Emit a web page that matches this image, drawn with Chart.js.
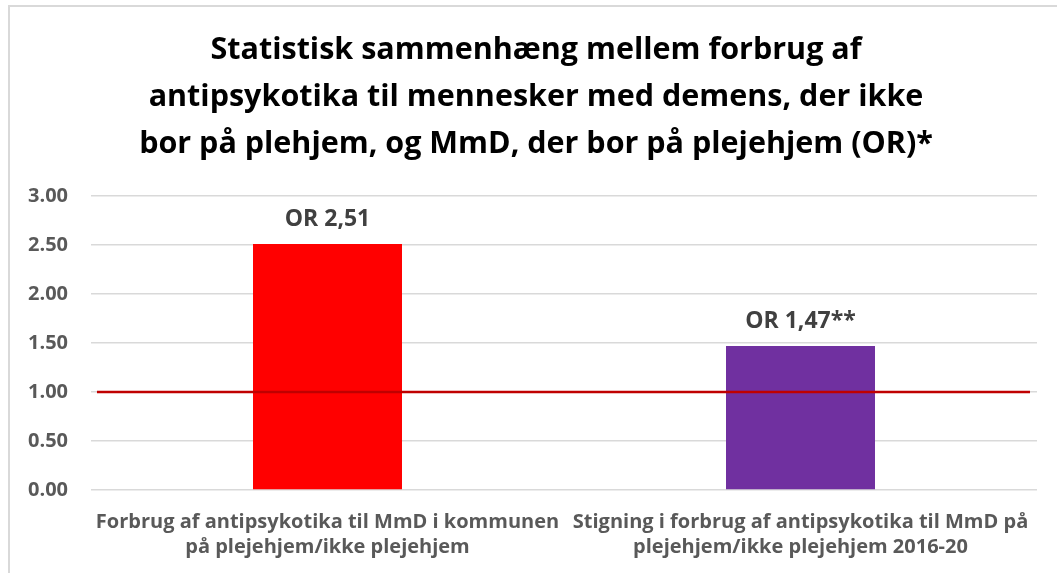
<!DOCTYPE html>
<html>
<head>
<meta charset="utf-8">
<script src="https://cdn.jsdelivr.net/npm/chart.js@4/dist/chart.umd.min.js"></script>
<style>
  html, body { margin: 0; padding: 0; background: #fff; overflow: hidden; width: 1057px; height: 573px; }
  #box { position: absolute; left: 8px; top: 5px; width: 1100px; height: 600px;
         border-top: 2px solid #d9d9d9; border-left: 2px solid #d9d9d9; }
  #c { position: absolute; left: 8px; top: 5px; }
</style>
</head>
<body>
<div id="box"></div>
<canvas id="c" width="1056" height="568"></canvas>
<script>
const titleLines = [
  "Statistisk sammenhæng mellem forbrug af",
  "antipsykotika til mennesker med demens, der ikke",
  "bor på plehjem, og MmD, der bor på plejehjem (OR)*"
];
const categories = [
  ["Forbrug af antipsykotika til MmD i kommunen", "på plejehjem/ikke plejehjem"],
  ["Stigning i forbrug af antipsykotika til MmD på", "plejehjem/ikke plejehjem 2016-20"]
];
const oddsRatios = [2.51, 1.47];
const dataLabels = ["OR 2,51", "OR 1,47**"];
const barColors = ["#FF0000", "#7030A0"];
const referenceValue = 1;
const yTicks = [0, 0.5, 1, 1.5, 2, 2.5, 3];

const FONT = "'Open Sans', sans-serif";

const labelPlugin = {
  id: 'barLabels',
  afterDatasetsDraw(chart) {
    const ctx = chart.ctx;
    const meta = chart.getDatasetMeta(1);
    ctx.save();
    ctx.font = "bold 23px " + FONT;
    ctx.fillStyle = "#404040";
    ctx.textAlign = "center";
    ctx.textBaseline = "alphabetic";
    meta.data.forEach((bar, i) => {
      ctx.fillText(dataLabels[i], bar.x, bar.y - 18);
    });
    ctx.restore();
  }
};

new Chart(document.getElementById('c'), {
  data: {
    labels: categories,
    datasets: [
      {
        type: 'line',
        data: [{x: 0, y: referenceValue}, {x: 1, y: referenceValue}],
        xAxisID: 'xl',
        borderColor: '#C00000',
        borderWidth: 2.5,
        pointRadius: 0,
        order: 0
      },
      {
        type: 'bar',
        data: oddsRatios,
        backgroundColor: barColors,
        grouped: false,
        categoryPercentage: 1,
        barPercentage: 0.315,
        order: 1
      }
    ]
  },
  options: {
    responsive: false,
    animation: false,
    layout: { padding: { left: 0, right: 0, top: 0, bottom: 0 } },
    plugins: {
      legend: { display: false },
      tooltip: { enabled: false },
      title: {
        display: true,
        text: titleLines,
        color: '#000',
        font: { family: FONT, size: 30.5, weight: 'bold', lineHeight: '47px' },
        padding: { top: 22, bottom: 28 }
      }
    },
    scales: {
      x: {
        type: 'category',
        grid: { display: false, drawTicks: false },
        border: { display: false },
        ticks: {
          color: '#595959',
          font: { family: FONT, size: 20, weight: 'bold', lineHeight: '25px' },
          padding: 20,
          maxRotation: 0,
          autoSkip: false
        },
        afterFit(s) { s.height = 83; }
      },
      xl: {
        type: 'linear',
        display: false,
        min: -0.0064,
        max: 1.0075
      },
      y: {
        min: 0,
        max: 3,
        afterBuildTicks(s) { s.ticks = yTicks.map(v => ({ value: v })); },
        grid: { color: '#d9d9d9', lineWidth: 1.5, drawTicks: false },
        border: { display: false },
        ticks: {
          color: '#595959',
          font: { family: FONT, size: 20, weight: 'bold' },
          padding: 23,
          callback: v => Number(v).toFixed(2)
        },
        afterFit(s) { s.width = 83; }
      },
      yR: {
        position: 'right',
        min: 0,
        max: 3,
        grid: { display: false, drawTicks: false },
        border: { display: false },
        ticks: { display: false },
        afterFit(s) { s.width = 27; }
      }
    }
  },
  plugins: [labelPlugin]
});
</script>
</body>
</html>
